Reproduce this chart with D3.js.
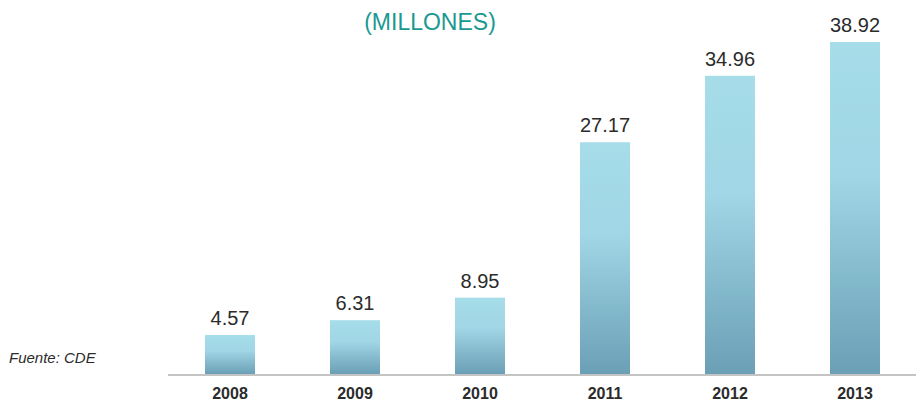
<!DOCTYPE html>
<html>
<head>
<meta charset="utf-8">
<script src="https://cdn.jsdelivr.net/npm/d3@7"></script>
<style>
  body { margin: 0; background: #fff; }
  text { font-family: "Liberation Sans", Arial, sans-serif; }
</style>
</head>
<body>
<div id="chart"></div>
<script>
// Chart data
var years = ["2008", "2009", "2010", "2011", "2012", "2013"];
var values = [4.57, 6.31, 8.95, 27.17, 34.96, 38.92];

var width = 919;
var height = 403;
var baseline = 374;

var svg = d3.select("#chart")
    .append("svg")
    .attr("width", width)
    .attr("height", height);

// Gradient for bars
var grad = svg.append("defs").append("linearGradient")
    .attr("id", "barGrad")
    .attr("x1", 0).attr("y1", 0).attr("x2", 0).attr("y2", 1);
grad.append("stop").attr("offset", "0%").attr("stop-color", "#a6dde9");
grad.append("stop").attr("offset", "40%").attr("stop-color", "#a0d6e5");
grad.append("stop").attr("offset", "100%").attr("stop-color", "#6a9fb6");

// Scales
var x = d3.scaleBand()
    .domain(years)
    .range([167.5, 917.5])
    .paddingInner(0.6)
    .paddingOuter(0.3);

var y = d3.scaleLinear()
    .domain([0, 38.92])
    .range([baseline, 42]);

// Bars
svg.selectAll("rect.bar")
    .data(values)
    .enter()
    .append("rect")
    .attr("class", "bar")
    .attr("x", function (d, i) { return x(years[i]); })
    .attr("y", function (d) { return y(d); })
    .attr("width", x.bandwidth())
    .attr("height", function (d) { return baseline - y(d); })
    .attr("fill", "url(#barGrad)");

// Value labels
svg.selectAll("text.value")
    .data(values)
    .enter()
    .append("text")
    .attr("class", "value")
    .attr("x", function (d, i) { return x(years[i]) + x.bandwidth() / 2; })
    .attr("y", function (d) { return y(d) - 10; })
    .attr("text-anchor", "middle")
    .style("font-size", "20px")
    .style("fill", "#2b2b2b")
    .text(function (d) { return d.toFixed(2); });

// Axis line
svg.append("line")
    .attr("x1", 168).attr("x2", 916)
    .attr("y1", baseline + 1).attr("y2", baseline + 1)
    .attr("stroke", "#c4c4c4")
    .attr("stroke-width", 2);

// Year labels
var xAxis = svg.append("g")
    .attr("transform", "translate(0," + baseline + ")")
    .call(d3.axisBottom(x).tickSize(0).tickPadding(14));
xAxis.select(".domain").remove();
xAxis.selectAll("text")
    .style("font-size", "16px")
    .style("font-weight", "bold")
    .style("fill", "#2b2b2b")
    .style("font-family", "'Liberation Sans', Arial, sans-serif");

// Title
svg.append("text")
    .attr("x", 430)
    .attr("y", 30)
    .attr("text-anchor", "middle")
    .style("font-size", "23px")
    .style("fill", "#1a9992")
    .text("(MILLONES)");

// Source
svg.append("text")
    .attr("x", 9)
    .attr("y", 363)
    .style("font-size", "15px")
    .style("font-style", "italic")
    .style("fill", "#2b2b2b")
    .text("Fuente: CDE");
</script>
</body>
</html>
